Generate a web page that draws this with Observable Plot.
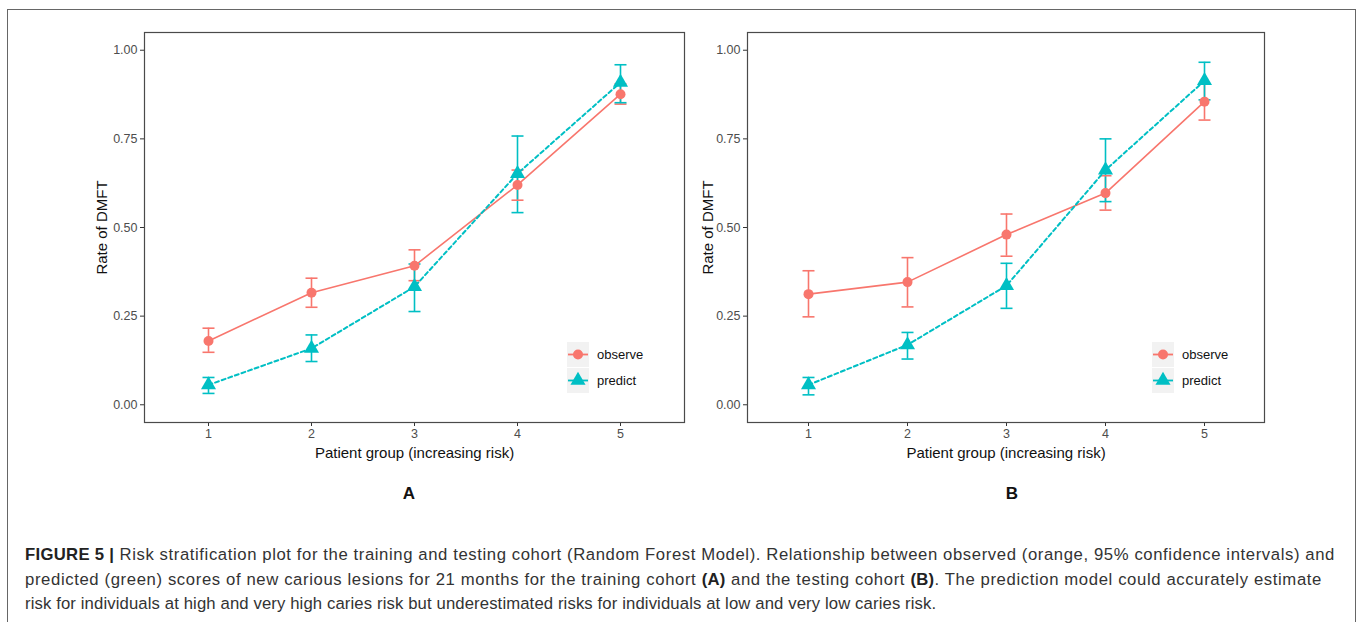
<!DOCTYPE html>
<html>
<head>
<meta charset="utf-8">
<script src="https://cdn.jsdelivr.net/npm/d3@7"></script>
<script src="https://cdn.jsdelivr.net/npm/@observablehq/plot@0.6"></script>
<style>
  body { margin: 0; background: #fff; font-family: "Liberation Sans", Arial, sans-serif; }
  #fig { position: relative; width: 1363px; height: 622px; overflow: hidden; background: #fff; }
  #frame { position: absolute; left: 7px; top: 9px; width: 1349px; height: 700px; border: 1px solid #666; box-sizing: border-box; }
  .panel { position: absolute; top: 0; }
  .tag { position: absolute; top: 484px; font-weight: bold; font-size: 17px; color: #111; transform: translateX(-50%); }
  .legend { position: absolute; font-size: 13px; color: #111; }
  .legend .item { display: flex; align-items: center; height: 26px; }
  .legend svg { display: block; background: #f2f2f2; }
  .legend span { margin-left: 8px; }
  #caption { position: absolute; left: 25px; top: 543px; font-size: 16.7px; line-height: 24.5px; color: #333; white-space: nowrap; }
  #caption .l1 { letter-spacing: 0.6px; }
  #caption .l2 { letter-spacing: 0.62px; }
  #caption .l3 { letter-spacing: 0.12px; }
  #caption b { color: #222; letter-spacing: 0.3px; }
</style>
</head>
<body>
<div id="fig">
  <div id="frame"></div>
  <div id="panelA" class="panel" style="left:0px"></div>
  <div id="panelB" class="panel" style="left:700px"></div>
  <div class="tag" style="left:409px">A</div>
  <div class="tag" style="left:1012px">B</div>
  <div id="legendA" class="legend" style="left:567px;top:341px"></div>
  <div id="legendB" class="legend" style="left:1152px;top:341px"></div>
  <div id="caption">
    <div class="l1"><b>FIGURE 5 |</b> Risk stratification plot for the training and testing cohort (Random Forest Model). Relationship between observed (orange, 95% confidence intervals) and</div>
    <div class="l2">predicted (green) scores of new carious lesions for 21 months for the training cohort <b>(A)</b> and the testing cohort <b>(B)</b>. The prediction model could accurately estimate</div>
    <div class="l3">risk for individuals at high and very high caries risk but underestimated risks for individuals at low and very low caries risk.</div>
  </div>
</div>
<script>
// ---- data ----
const groups = ["1", "2", "3", "4", "5"];
const seriesNames = ["observe", "predict"];
const seriesColors = ["#F8766D", "#00BFC4"];
const yTicks = [0, 0.25, 0.5, 0.75, 1];
const xLabel = "Patient group (increasing risk)";
const yLabel = "Rate of DMFT";

// Panel A: training cohort
const trainObserve   = [0.180, 0.316, 0.392, 0.620, 0.876];
const trainObserveLo = [0.148, 0.275, 0.350, 0.577, 0.848];
const trainObserveHi = [0.216, 0.357, 0.437, 0.662, 0.905];
const trainPredict   = [0.056, 0.159, 0.333, 0.652, 0.909];
const trainPredictLo = [0.032, 0.122, 0.263, 0.542, 0.852];
const trainPredictHi = [0.077, 0.197, 0.397, 0.758, 0.959];

// Panel B: testing cohort
const testObserve   = [0.312, 0.346, 0.480, 0.597, 0.855];
const testObserveLo = [0.248, 0.276, 0.419, 0.549, 0.803];
const testObserveHi = [0.378, 0.415, 0.538, 0.646, 0.905];
const testPredict   = [0.056, 0.169, 0.336, 0.662, 0.914];
const testPredictLo = [0.028, 0.129, 0.272, 0.573, 0.860];
const testPredictHi = [0.077, 0.204, 0.399, 0.750, 0.966];

function rowsFor(obs, obsLo, obsHi, pred, predLo, predHi) {
  const rows = [];
  groups.forEach((g, i) => rows.push({group: g, series: "observe", value: obs[i], lo: obsLo[i], hi: obsHi[i]}));
  groups.forEach((g, i) => rows.push({group: g, series: "predict", value: pred[i], lo: predLo[i], hi: predHi[i]}));
  return rows;
}

const capSymbol = {
  draw(context, size) {
    const r = Math.sqrt(size / Math.PI);
    context.moveTo(-r, 0);
    context.lineTo(r, 0);
  }
};

function panel(rows, {width, marginLeft, marginRight, yLabelOffset}) {
  const obsRows = rows.filter(d => d.series === "observe");
  const predRows = rows.filter(d => d.series === "predict");
  return Plot.plot({
    width, height: 480,
    marginLeft, marginRight, marginTop: 32, marginBottom: 58,
    style: {fontFamily: "'Liberation Sans', Arial, sans-serif", fontSize: "12px", background: "transparent", overflow: "visible"},
    x: {type: "point", domain: groups, padding: 0.6},
    y: {domain: [-0.05, 1.05]},
    color: {domain: seriesNames, range: seriesColors},
    marks: [
      Plot.axisY({ticks: yTicks, tickFormat: d3.format(".2f"), tickSize: 4, tickPadding: 3, stroke: "#333", fill: "#4d4d4d", fontSize: 12.5, label: null}),
      Plot.axisY({ticks: [], tickSize: 0, label: yLabel, labelAnchor: "center", labelArrow: "none", labelOffset: yLabelOffset, fill: "#111", fontSize: 15}),
      Plot.axisX({tickSize: 4, tickPadding: 3, stroke: "#333", fill: "#4d4d4d", fontSize: 12.5, label: null}),
      Plot.axisX({ticks: [], tickSize: 0, label: xLabel, labelAnchor: "center", labelArrow: "none", labelOffset: 35, fill: "#111", fontSize: 15}),
      Plot.ruleX(rows, {x: "group", y1: "lo", y2: "hi", stroke: "series", strokeWidth: 1.6}),
      Plot.dot(rows, {x: "group", y: "lo", symbol: capSymbol, r: 6, stroke: "series", strokeWidth: 1.6}),
      Plot.dot(rows, {x: "group", y: "hi", symbol: capSymbol, r: 6, stroke: "series", strokeWidth: 1.6}),
      Plot.line(obsRows, {x: "group", y: "value", stroke: "series", strokeWidth: 1.6}),
      Plot.line(predRows, {x: "group", y: "value", stroke: "series", strokeWidth: 2, strokeDasharray: "4,3"}),
      Plot.dot(obsRows, {x: "group", y: "value", symbol: "circle", r: 5, fill: "series"}),
      Plot.dot(predRows, {x: "group", y: "value", symbol: "triangle", r: 5.6, fill: "series"}),
      Plot.frame({stroke: "#4a4a4a", strokeWidth: 1.2})
    ]
  });
}

document.getElementById("panelA").append(panel(
  rowsFor(trainObserve, trainObserveLo, trainObserveHi, trainPredict, trainPredictLo, trainPredictHi),
  {width: 700, marginLeft: 144, marginRight: 16, yLabelOffset: 48}
));
document.getElementById("panelB").append(panel(
  rowsFor(testObserve, testObserveLo, testObserveHi, testPredict, testPredictLo, testPredictHi),
  {width: 620, marginLeft: 47, marginRight: 56, yLabelOffset: 45}
));

function legend(el) {
  seriesNames.forEach((name, i) => {
    const item = document.createElement("div");
    item.className = "item";
    const ns = "http://www.w3.org/2000/svg";
    const svg = document.createElementNS(ns, "svg");
    svg.setAttribute("width", 22); svg.setAttribute("height", 25);
    const line = document.createElementNS(ns, "line");
    line.setAttribute("x1", 1); line.setAttribute("x2", 21); line.setAttribute("y1", 12.5); line.setAttribute("y2", 12.5);
    line.setAttribute("stroke", seriesColors[i]); line.setAttribute("stroke-width", 1.8);
    svg.append(line);
    const sym = document.createElementNS(ns, "path");
    sym.setAttribute("d", d3.symbol(i === 0 ? d3.symbolCircle : d3.symbolTriangle, i === 0 ? 25 * Math.PI : 5.6 * 5.6 * Math.PI)());
    sym.setAttribute("transform", "translate(11,12.5)");
    sym.setAttribute("fill", seriesColors[i]);
    svg.append(sym);
    const label = document.createElement("span");
    label.textContent = name;
    item.append(svg, label);
    el.append(item);
  });
}
legend(document.getElementById("legendA"));
legend(document.getElementById("legendB"));
</script>
</body>
</html>
